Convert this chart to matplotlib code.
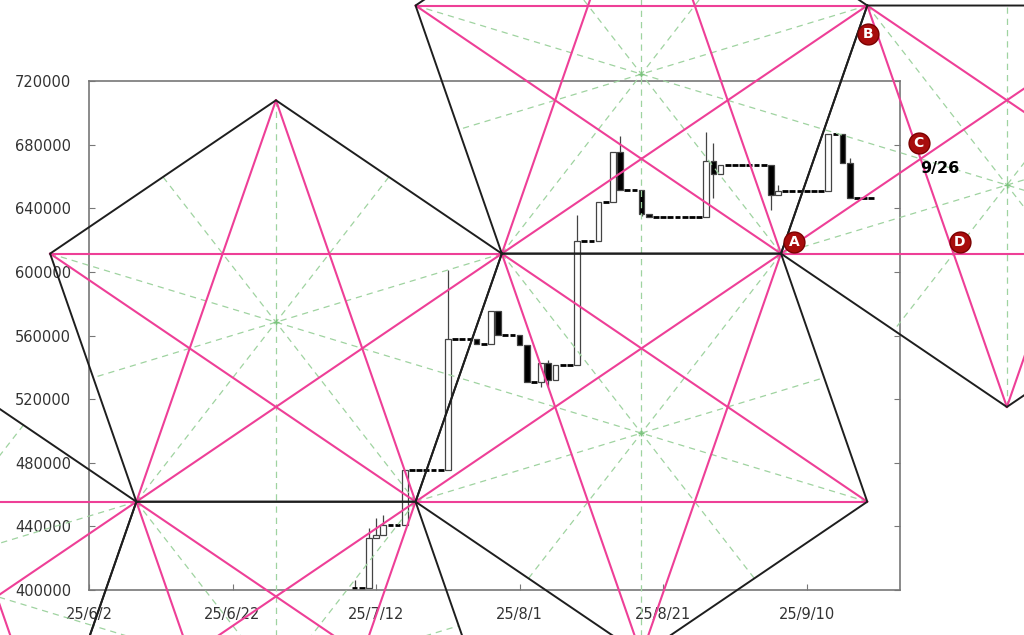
import numpy as np
import pandas as pd
import matplotlib
matplotlib.use('Agg')
import matplotlib.pyplot as plt
from matplotlib.patches import Rectangle

# daily candles, one per calendar day from 25/7/9
start = '2025-07-09'
opens = [401000, 401000, 401000, 432700, 434600, 440800, 440800, 440800,
         475400, 475400, 475400, 475400, 475400, 475400, 557800, 557800, 557800,
         557800, 554700, 554700, 575400, 560300, 560300, 560300, 554000, 530800,
         530800, 542700, 532000, 541400, 541400, 541400, 619400, 619400, 619400,
         644000, 644000, 675400, 651500, 651500, 651500, 636400,
         634500, 634500, 634500, 634500, 634500, 634500, 634500, 634500, 669700,
         661500, 667200, 667200, 667200, 667200, 667200, 667200, 667200, 648300,
         650800, 650800, 650800, 650800, 650800, 650800, 650800, 686700, 686700,
         668400, 646400, 646400, 646400]
highs = [406000, 401000, 439000, 445000, 447000, 440800, 440800, 475400,
         475400, 475400, 475400, 475400, 475400, 601000, 557800, 557800, 557800,
         557800, 554700, 575400, 575400, 560300, 560300, 560300, 554000, 530800,
         542700, 544600, 541400, 541400, 541400, 635800, 619400, 619400, 644000,
         644000, 675400, 685400, 651500, 651500, 651500, 636400,
         634500, 634500, 634500, 634500, 634500, 634500, 634500, 688000, 681000,
         667200, 667200, 667200, 667200, 667200, 667200, 667200, 667200, 654600,
         650800, 650800, 650800, 650800, 650800, 650800, 686700, 686700, 686700,
         671600, 646400, 646400, 646400]
lows = [401000, 401000, 401000, 432700, 434600, 440800, 440800, 440800,
        475400, 475400, 475400, 475400, 475400, 475400, 557800, 557800, 557800,
        554700, 554700, 554700, 560300, 560300, 560300, 554000, 530800, 530800,
        527600, 527600, 532000, 541400, 541400, 541400, 619400, 619400, 619400,
        644000, 644000, 651500, 651500, 651500, 635000, 634500,
        634500, 634500, 634500, 634500, 634500, 634500, 634500, 634500, 646400,
        661500, 667200, 667200, 667200, 667200, 667200, 667200, 638900, 648300,
        650800, 650800, 650800, 650800, 650800, 650800, 650800, 686700, 668400,
        646400, 646400, 646400, 646400]
closes = [401000, 401000, 432700, 434600, 440800, 440800, 440800, 475400,
          475400, 475400, 475400, 475400, 475400, 557800, 557800, 557800, 557800,
          554700, 554700, 575400, 560300, 560300, 560300, 554000, 530800, 530800,
          542700, 532000, 541400, 541400, 541400, 619400, 619400, 619400, 644000,
          644000, 675400, 651500, 651500, 651500, 636400, 634500,
          634500, 634500, 634500, 634500, 634500, 634500, 634500, 669700, 661500,
          667200, 667200, 667200, 667200, 667200, 667200, 667200, 648300, 650800,
          650800, 650800, 650800, 650800, 650800, 650800, 686700, 686700, 668400,
          646400, 646400, 646400, 646400]

tick_dates = ['2025-06-02', '2025-06-22', '2025-07-12', '2025-08-01', '2025-08-21', '2025-09-10']
tick_labels = ['25/6/2', '25/6/22', '25/7/12', '25/8/1', '25/8/21', '25/9/10']
yticks = [400000, 440000, 480000, 520000, 560000, 600000, 640000, 680000, 720000]

# pentagon lattice: base vertex (days from 6/2, price), side in days
base_day = 6.6
base_price = 455500
side = 38.9
yscale = 4216.0   # price per day-unit so that pentagons look regular

# labelled points (day, price)
marks = ['A', 'B', 'C', 'D']
mark_day = [98.3, 108.5, 115.6, 121.3]
mark_price = [618800, 749500, 681000, 618800]
note_text = '9/26'
note_day = 118.6
note_price = 664700

t0 = pd.Timestamp('2025-06-02')
xs = (pd.date_range(start, periods=len(closes)) - t0).days.values.astype(float)

fig = plt.figure(figsize=(10.24, 6.35), dpi=100)
ax = fig.add_axes([89/1024, 1-590/635, 811/1024, 509/635])

w = 0.8
for x, o, h, l, c in zip(xs, opens, highs, lows, closes):
    if h > max(o, c):
        ax.vlines(x, max(o, c), h, color='#444444', lw=0.9, zorder=2)
    if l < min(o, c):
        ax.vlines(x, l, min(o, c), color='#444444', lw=0.9, zorder=2)
    if o == c:
        ax.hlines(c, x-w/2, x+w/2, color='black', lw=2.0, zorder=2)
    else:
        fc = 'white' if c > o else 'black'
        ax.add_patch(Rectangle((x-w/2, min(o, c)), w, abs(c-o), facecolor=fc,
                               edgecolor='#444444', lw=0.9, zorder=2))

c72, s72 = np.cos(np.radians(72)), np.sin(np.radians(72))
hh = side*(s72 + np.sin(np.radians(36)))

def pent(x0, y0, up):
    sg = 1 if up else -1
    return np.array([(x0, y0), (x0+side, y0), (x0+side+side*c72, y0+sg*side*s72),
                     (x0+side/2, y0+sg*hh), (x0-side*c72, y0+sg*side*s72)])

y0 = base_price/yscale
p1 = pent(base_day, y0, True)
p5 = pent(base_day, y0, False)
q = pent(p5[4][0]-side, p5[4][1], True)
p2 = pent(p1[2][0], p1[2][1], False)
p3 = pent(p1[2][0], p1[2][1], True)
p4 = pent(p3[2][0], p3[2][1], False)

for P in [q, p5, p1, p2, p3, p4]:
    P = P*[1, yscale]
    for i in range(5):
        a = P[i]
        m = (P[(i+2) % 5] + P[(i+3) % 5])/2
        ax.plot([a[0], m[0]], [a[1], m[1]], color='#9fd3a0', lw=0.9,
                ls=(0, (5, 4)), clip_on=False, zorder=3)
    cen = P.mean(axis=0)
    ax.plot(cen[0], cen[1], marker='+', ms=4, color='#7cc47e', clip_on=False, zorder=3)
    for i in range(5):
        b = P[(i+2) % 5]
        ax.plot([P[i][0], b[0]], [P[i][1], b[1]], color='#ee3f97', lw=1.5,
                clip_on=False, zorder=4)
    cl = np.vstack([P, P[:1]])
    ax.plot(cl[:, 0], cl[:, 1], color='#1e1e1e', lw=1.4, clip_on=False, zorder=5)

for m, x, y in zip(marks, mark_day, mark_price):
    ax.plot(x, y, 'o', ms=15, color='#a80d0d', mec='#7a0000', mew=1, clip_on=False, zorder=7)
    ax.text(x, y, m, color='white', fontsize=10, fontweight='bold', ha='center',
            va='center', clip_on=False, zorder=8)
ax.text(note_day, note_price, note_text, fontsize=11.5, fontweight='bold', ha='center',
        va='center', clip_on=False, zorder=8)

ax.set_xlim(0, 113)
ax.set_ylim(400000, 720000)
ax.set_xticks([(pd.Timestamp(d)-t0).days for d in tick_dates])
ax.set_xticklabels(tick_labels)
ax.set_yticks(yticks)
ax.set_yticklabels([str(v) for v in yticks])
ax.tick_params(direction='in', right=True, length=4, color='#777777', labelsize=10.5,
               labelcolor='#333333')
ax.tick_params(axis='x', pad=12)
ax.tick_params(axis='y', pad=13)
for sp in ax.spines.values():
    sp.set_color('#777777')
    sp.set_linewidth(1.2)

fig.savefig('out.png', dpi=100)
